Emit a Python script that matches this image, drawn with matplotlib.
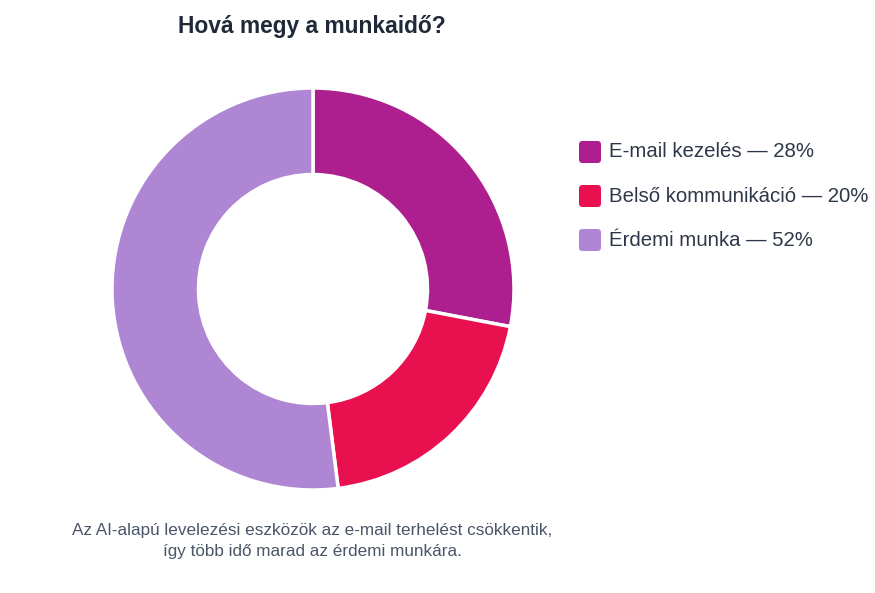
import matplotlib
matplotlib.use("Agg")
import matplotlib.pyplot as plt
from matplotlib.patches import FancyBboxPatch

plt.rcParams['font.family'] = ['Liberation Sans', 'DejaVu Sans']

categories = ["E-mail kezelés", "Belső kommunikáció", "Érdemi munka"]
values = [28, 20, 52]
colors = ["#AD1F8E", "#E8104F", "#AE86D4"]
title = "Hová megy a munkaidő?"
caption = "Az AI-alapú levelezési eszközök az e-mail terhelést csökkentik,\nígy több idő marad az érdemi munkára."

W, H = 875, 593
fig = plt.figure(figsize=(W / 100, H / 100), dpi=100)
fig.patch.set_facecolor("white")

cx, cy, r = 313, 289, 201
ax = fig.add_axes([(cx - r) / W, 1 - (cy + r) / H, 2 * r / W, 2 * r / H])
ax.pie(values, colors=colors, startangle=90, counterclock=False, radius=1.0,
       wedgeprops=dict(width=1 - 114.5 / 201, edgecolor="white", linewidth=2.5))
ax.set_xlim(-1.0, 1.0)
ax.set_ylim(-1.0, 1.0)
ax.set_aspect("equal")
ax.axis("off")

fig.text(312 / W, 1 - 26 / H, title, ha="center", va="center",
         fontsize=16.4, fontweight="bold", color="#1F2937")

for i, (cat, val, col) in enumerate(zip(categories, values, colors)):
    y = 152 + 44 * i
    sq = FancyBboxPatch(((579) / W, 1 - (y + 11) / H), 22 / W, 22 / H,
                        boxstyle="round,pad=0,rounding_size=0.004",
                        transform=fig.transFigure, facecolor=col, edgecolor="none",
                        mutation_aspect=W / H)
    fig.patches.append(sq)
    fig.text(609 / W, 1 - y / H, f"{cat} — {val}%", ha="left", va="center",
             fontsize=14.7, color="#2D3748")

fig.text(312 / W, 1 - 541 / H, caption, ha="center", va="center",
         fontsize=12.3, color="#4A5568", linespacing=1.45)

fig.savefig("out.png", dpi=100, facecolor="white")
